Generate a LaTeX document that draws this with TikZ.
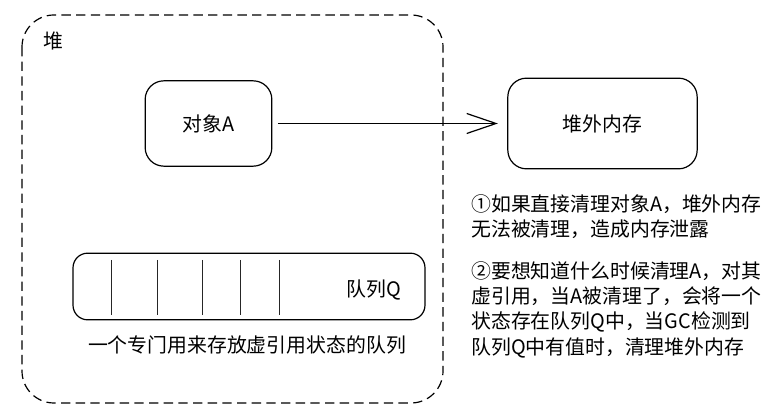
\documentclass[tikz,border=0pt]{standalone}
\usepackage{fontspec}
\setmainfont{Noto Sans CJK SC}
\usetikzlibrary{arrows.meta,positioning}
\begin{document}
\begin{tikzpicture}[x=0.75pt,y=-0.75pt,
  every node/.style={font=\fontsize{14.9}{19}\selectfont},
  memobox/.style={draw,line width=0.9pt,rounded corners=14pt,inner sep=0pt},
  heapbox/.style={draw,dashed,dash pattern=on 7pt off 4pt,line width=0.9pt,rounded corners=24pt},
  slot/.style={line width=0.6pt,black!85},
  refarrow/.style={line width=0.9pt,-{Straight Barb[length=22pt,width=15pt,line width=0.9pt]}}]
\useasboundingbox (0,0) rectangle (772,413);
% heap area
\draw[heapbox] (22,15) rectangle (443,403);
\node (heap) at (53,41) {堆};
% object and off-heap memory
\node[memobox,minimum width=95pt,minimum height=64pt] (objA) at (208.5,123.5) {对象A};
\node[memobox,minimum width=142pt,minimum height=68pt] (offheap) at (602.5,123.5) {堆外内存};
\draw[refarrow] ([xshift=4pt]objA.east) -- ([xshift=-7pt]offheap.west);
% reference queue
\node[memobox,rounded corners=11pt,minimum width=264pt,minimum height=50pt] (queue) at (249,286.5) {};
\foreach \x in {111,157,202,240,279}
  \draw[slot] (\x,260) -- (\x,315);
\node (qlabel) at (374,290) {队列Q};
\node (qnote) at (247,345) {一个专门用来存放虚引用状态的队列};
% notes
\node[below right,align=left,inner sep=0pt] (note1) at (471,194)
  {①如果直接清理对象A，堆外内存\\无法被清理，造成内存泄露};
\node[below right,align=left,inner sep=0pt] (note2) at (471,261)
  {②要想知道什么时候清理A，对其\\虚引用，当A被清理了，会将一个\\状态存在队列Q中，当GC检测到\\队列Q中有值时，清理堆外内存};
\end{tikzpicture}
\end{document}
